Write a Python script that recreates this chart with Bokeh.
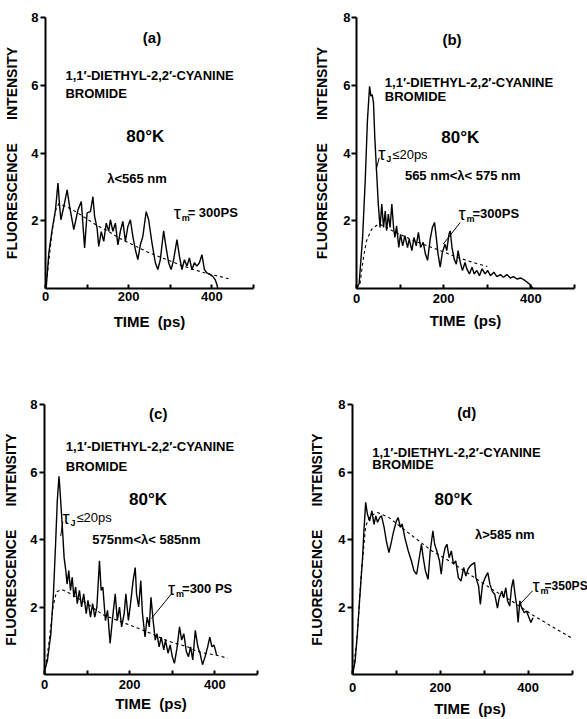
from bokeh.plotting import figure
from bokeh.layouts import column, row
from bokeh.models import Range1d, FixedTicker, Label
from bokeh.embed import file_html
from bokeh.resources import INLINE

FONT = "Liberation Sans"

# ---------------- data ----------------
x_ticks = [0, 100, 200, 300, 400, 500]
x_tick_labels = {0: "0", 100: "", 200: "200", 300: "", 400: "400", 500: ""}
y_ticks = [2, 4, 6, 8]

# (a)  lambda < 565 nm
a_time = [0, 2, 8, 16, 24, 30, 34, 37, 44, 52, 58, 68, 78, 86, 94, 100, 108, 114, 118, 124,
          128, 134, 140, 146, 152, 156, 162, 168, 174, 180, 186, 192, 198, 204, 210, 216, 222, 228, 234, 242,
          248, 256, 264, 270, 276, 284, 290, 296, 302, 308, 316, 322, 328, 334, 340, 346, 352, 358, 364, 370,
          376, 382, 388, 396, 402, 408, 412, 414]
a_signal = [0, 0.07, 1.05, 1.74, 2.32, 3.11, 2.42, 2.03, 2.42, 2.91, 2.42, 1.74, 2.32, 2.57, 1.2, 2.23, 2.27, 2.71, 2.13, 1.78,
            1.24, 1.68, 1.39, 1.93, 1.69, 2.03, 1.69, 1.93, 1.29, 1.69, 1.98, 1.39, 1.83, 2.03, 1.54, 1.15, 0.85, 1.29, 1.54, 2.27,
            2.03, 1.34, 0.76, 0.56, 0.85, 1.7, 1.2, 0.76, 0.56, 0.85, 1.44, 0.95, 0.56, 0.85, 0.66, 0.9, 0.56, 0.76, 0.66, 0.76,
            1.0, 0.56, 0.46, 0.41, 0.36, 0.26, 0.12, 0]
a_fit_time = [0, 8, 16, 24, 32, 50, 75, 100, 125, 150, 175, 200, 225, 250, 275, 300, 325, 350, 375, 400, 420, 440]
a_fit_value = [0, 0.8, 1.7, 2.3, 2.5, 2.42, 2.25, 2.05, 1.85, 1.7, 1.5, 1.35, 1.2, 1.05, 0.93, 0.81, 0.69, 0.58, 0.49, 0.41, 0.35, 0.29]

# (b)  565 nm < lambda < 575 nm
b_time = [0, 6, 14, 20, 25, 30, 33, 36, 39, 42, 46, 50, 54, 58, 62, 66, 69, 73, 77, 81,
          85, 88, 92, 97, 101, 106, 111, 117, 121, 127, 132, 137, 142, 147, 153, 158, 163, 169, 174, 179,
          183, 187, 192, 197, 203, 207, 212, 215, 219, 224, 229, 233, 238, 243, 249, 253, 259, 265, 270, 276,
          282, 288, 295, 301, 307, 315, 322, 330, 337, 345, 353, 360, 368, 377, 387, 397, 405]
b_signal = [0, 0.14, 1.51, 3.18, 4.94, 5.97, 5.68, 5.72, 5.48, 4.45, 3.47, 2.49, 1.8, 2.49, 1.8, 2.29, 1.71, 2.2, 1.8, 2.49,
            1.8, 1.51, 1.85, 1.21, 1.6, 1.26, 1.56, 1.21, 1.46, 1.12, 1.51, 1.26, 1.66, 1.21, 1.36, 1.02, 0.83, 1.46, 1.8, 1.95,
            1.51, 1.02, 0.63, 1.07, 1.31, 1.12, 1.6, 1.7, 1.21, 0.87, 0.72, 1.12, 0.77, 0.53, 0.77, 0.58, 0.43, 0.63, 0.43, 0.53,
            0.38, 0.58, 0.43, 0.53, 0.38, 0.48, 0.35, 0.41, 0.33, 0.41, 0.31, 0.35, 0.28, 0.31, 0.23, 0.13, 0]
b_fit_time = [0, 8, 16, 23, 35, 50, 62, 80, 100, 125, 150, 175, 200, 225, 250, 275, 300]
b_fit_value = [0, 0.14, 0.92, 1.41, 1.75, 1.9, 1.85, 1.72, 1.6, 1.45, 1.32, 1.2, 1.08, 0.95, 0.84, 0.74, 0.65]

# (c)  575 nm < lambda < 585 nm
c_time = [0, 1, 7, 15, 21, 26, 30, 34, 36, 42, 46, 50, 53, 57, 61, 65, 69, 73, 77, 82,
          87, 92, 98, 102, 108, 113, 118, 123, 129, 133, 137, 143, 148, 154, 160, 166, 171, 176, 181, 187,
          191, 197, 202, 208, 213, 216, 221, 226, 230, 236, 241, 246, 250, 255, 260, 264, 269, 274, 280, 284,
          290, 295, 300, 305, 311, 317, 322, 327, 333, 338, 343, 348, 354, 360, 365, 371, 377, 383, 388, 393,
          398, 404]
c_signal = [0, 0.14, 0.43, 1.22, 2.39, 3.86, 5.14, 5.87, 5.53, 4.35, 3.47, 3.08, 2.68, 3.08, 2.49, 2.88, 2.29, 2.59, 2.1, 2.49,
            2.0, 2.39, 1.8, 2.2, 1.7, 2.1, 1.7, 2.0, 3.37, 2.49, 2.59, 1.6, 1.9, 0.92, 1.7, 2.39, 1.6, 2.0, 1.41, 1.8,
            2.39, 1.6, 2.1, 2.78, 3.17, 2.39, 2.0, 2.78, 1.8, 1.11, 1.7, 1.41, 2.29, 1.6, 1.02, 1.21, 0.82, 1.11, 0.73, 1.02,
            0.63, 0.88, 0.53, 0.33, 0.78, 1.41, 1.02, 1.21, 0.68, 0.53, 0.82, 0.43, 1.31, 0.82, 0.63, 0.29, 0.53, 0.82, 1.11, 0.82,
            0.87, 0.58]
c_fit_time = [0, 10, 20, 28, 40, 60, 100, 137, 193, 240, 270, 300, 336, 356, 380, 402, 430]
c_fit_value = [0, 0.9, 2.0, 2.45, 2.52, 2.4, 2.1, 1.77, 1.5, 1.27, 1.1, 0.95, 0.82, 0.7, 0.62, 0.58, 0.48]

# (d)  lambda > 585 nm
d_time = [0, 1, 6, 11, 16, 23, 26, 30, 34, 39, 44, 49, 53, 57, 62, 66, 72, 77, 83, 89,
          94, 100, 104, 109, 113, 119, 127, 134, 140, 146, 151, 157, 161, 166, 172, 177, 183, 187, 192, 198,
          202, 206, 211, 215, 220, 225, 230, 235, 241, 247, 253, 258, 263, 268, 273, 278, 281, 287, 291, 296,
          302, 308, 313, 318, 324, 330, 334, 340, 344, 349, 353, 358, 362, 366, 370, 374, 377, 381, 385, 391,
          396, 402, 406, 411]
d_signal = [0, 0.05, 0.4, 1.2, 2.18, 3.47, 4.26, 5.1, 4.75, 4.55, 4.85, 4.45, 4.7, 4.51, 4.65, 4.7, 4.36, 3.96, 3.61, 3.96,
            4.26, 4.55, 4.65, 4.36, 4.46, 4.06, 3.66, 3.37, 3.07, 2.97, 3.37, 3.86, 3.46, 3.07, 2.82, 3.66, 4.26, 3.86, 3.66, 3.37,
            2.97, 3.46, 3.76, 3.86, 3.46, 3.66, 3.27, 3.37, 2.87, 2.77, 3.17, 2.92, 3.12, 3.22, 3.27, 3.32, 2.87, 2.62, 2.08, 2.67,
            2.87, 3.02, 2.67, 2.47, 2.37, 1.97, 2.27, 2.47, 2.27, 2.57, 2.18, 2.03, 2.57, 2.82, 2.37, 2.03, 1.54, 2.18, 1.98, 1.83,
            1.88, 1.68, 1.54, 1.68]
d_fit_time = [0, 10, 20, 30, 40, 57, 83, 106, 136, 181, 226, 272, 317, 362, 408, 453, 498]
d_fit_value = [0, 1.0, 3.0, 4.4, 4.7, 4.8, 4.65, 4.41, 4.11, 3.66, 3.32, 2.92, 2.53, 2.18, 1.78, 1.43, 1.09]

compound_1 = "1,1\u2032-DIETHYL-2,2\u2032-CYANINE"
compound_2 = "BROMIDE"
temperature = "80\u00b0K"
y_title = "FLUORESCENCE\u00a0\u00a0\u00a0\u00a0\u00a0\u00a0INTENSITY"
x_title = "TIME\u00a0\u00a0(ps)"

# ---------------- annotation layout (positions in data units) ----------------
panels = [
    dict(tag="(a)", t=a_time, s=a_signal, ft=a_fit_time, fv=a_fit_value, x_max=500,
         size=(298, 368), border=(45, 45, 17, 79), tick_standoff=3, title_standoff=9,
         ylab_standoff=2, ytitle_standoff=8,
         tag_xy=(256, 7.42), name_xy=(48, 6.29), brom_xy=(48, 5.76), temp_xy=(240, 4.48),
         wl="\u03bb<565 nm", wl_xy=(220, 3.26), wl_align="center",
         taum="= 300PS", taum_xy=(308, 2.24), taum_size="13px", taum_dx=14,
         taum_lead=None, tauj_xy=None, tauj_lead=None),
    dict(tag="(b)", t=b_time, s=b_signal, ft=b_fit_time, fv=b_fit_value, x_max=500,
         size=(289, 368), border=(58, 13, 16, 80), tick_standoff=5, title_standoff=6,
         ylab_standoff=1, ytitle_standoff=10,
         tag_xy=(219, 7.34), name_xy=(65, 6.08), brom_xy=(65, 5.68), temp_xy=(238, 4.45),
         wl="565 nm<\u03bb< 575 nm", wl_xy=(111, 3.35), wl_align="left",
         taum="=300PS", taum_xy=(234, 2.21), taum_size="13px", taum_dx=14,
         taum_lead=([238, 199], [1.95, 1.31]),
         tauj_xy=(50, 3.96), tauj_lead=([52, 45], [3.86, 3.5])),
    dict(tag="(c)", t=c_time, s=c_signal, ft=c_fit_time, fv=c_fit_value, x_max=500,
         size=(298, 351), border=(42, 41, 35, 44), tick_standoff=5, title_standoff=3,
         ylab_standoff=2, ytitle_standoff=8,
         tag_xy=(267, 7.74), name_xy=(50, 6.76), brom_xy=(50, 6.17), temp_xy=(243, 5.19),
         wl="575nm<\u03bb< 585nm", wl_xy=(112, 3.99), wl_align="left",
         taum="=300 PS", taum_xy=(290, 2.54), taum_size="13px", taum_dx=14,
         taum_lead=([298, 251], [2.39, 1.66]),
         tauj_xy=(42, 4.65), tauj_lead=([43, 38], [4.53, 4.1])),
    dict(tag="(d)", t=d_time, s=d_signal, ft=d_fit_time, fv=d_fit_value, x_max=535,
         size=(289, 351), border=(54, 0, 36, 45), tick_standoff=8, title_standoff=5,
         ylab_standoff=2, ytitle_standoff=10,
         tag_xy=(260, 7.77), name_xy=(45, 6.58), brom_xy=(45, 6.21), temp_xy=(230, 5.2),
         wl="\u03bb>585 nm", wl_xy=(279, 4.14), wl_align="left",
         taum="=350PS", taum_xy=(410, 2.63), taum_size="12px", taum_dx=12,
         taum_lead=([410, 381], [2.48, 2.08]),
         tauj_xy=None, tauj_lead=None),
]


def note(p, xy, text, size="13px", align="left", dx=0, dy=0, style="bold"):
    p.add_layout(Label(x=xy[0], y=xy[1], x_units="data", y_units="data", text=text,
                       text_font=FONT, text_font_style=style, text_font_size=size,
                       text_align=align, text_baseline="middle", text_color="black",
                       x_offset=dx, y_offset=dy))


def tau(p, xy, sub, rest, size="13px", dx=14, style="bold"):
    note(p, xy, "\u03c4", size="18px", style="normal")
    note(p, xy, sub, size="9px", dx=8, dy=-5)
    note(p, xy, rest, size=size, dx=dx, style=style)


def make_panel(cfg):
    w, h = cfg["size"]
    bl, br, bt, bb = cfg["border"]
    p = figure(width=w, height=h, x_range=Range1d(0, cfg["x_max"]), y_range=Range1d(0, 8),
               output_backend="svg", toolbar_location=None,
               min_border_left=bl, min_border_right=br, min_border_top=bt, min_border_bottom=bb)
    p.outline_line_color = None
    p.xgrid.visible = False
    p.ygrid.visible = False
    p.background_fill_color = "white"
    p.border_fill_color = "white"

    for ax in (p.xaxis[0], p.yaxis[0]):
        ax.axis_line_width = 2
        ax.axis_line_color = "black"
        ax.major_tick_line_width = 2
        ax.major_tick_line_color = "black"
        ax.minor_tick_line_color = None
        ax.major_label_text_font = FONT
        ax.major_label_text_font_style = "bold"
        ax.major_label_text_font_size = "13px"
        ax.major_label_text_color = "black"
        ax.axis_label_text_font = FONT
        ax.axis_label_text_font_style = "bold"
        ax.axis_label_text_color = "black"

    xa = p.xaxis[0]
    xa.ticker = FixedTicker(ticks=x_ticks)
    xa.bounds = (0, 500)
    xa.major_label_overrides = x_tick_labels
    xa.major_tick_in = 4
    xa.major_tick_out = 0
    xa.major_label_standoff = cfg["tick_standoff"]
    xa.axis_label = x_title
    xa.axis_label_text_font_size = "15px"
    xa.axis_label_standoff = cfg["title_standoff"]

    ya = p.yaxis[0]
    ya.ticker = FixedTicker(ticks=y_ticks)
    ya.major_tick_in = 0
    ya.major_tick_out = 5
    ya.major_label_standoff = cfg["ylab_standoff"]
    ya.axis_label = y_title
    ya.axis_label_text_font_size = "14px"
    ya.axis_label_standoff = cfg["ytitle_standoff"]

    p.line(cfg["ft"], cfg["fv"], line_color="black", line_width=1.1, line_dash="3 3")
    p.line(cfg["t"], cfg["s"], line_color="black", line_width=1.4)

    note(p, cfg["tag_xy"], cfg["tag"], size="15px", align="center")
    note(p, cfg["name_xy"], compound_1, size="13px")
    note(p, cfg["brom_xy"], compound_2, size="13px")
    note(p, cfg["temp_xy"], temperature, size="17px", align="center")
    note(p, cfg["wl_xy"], cfg["wl"], size="13px", align=cfg["wl_align"])
    tau(p, cfg["taum_xy"], "m", cfg["taum"], size=cfg["taum_size"], dx=cfg["taum_dx"])
    if cfg["taum_lead"]:
        p.line(cfg["taum_lead"][0], cfg["taum_lead"][1], line_color="black", line_width=1)
    if cfg["tauj_xy"]:
        tau(p, cfg["tauj_xy"], "J", "\u226420ps", style="normal")
        p.line(cfg["tauj_lead"][0], cfg["tauj_lead"][1], line_color="black", line_width=1)
    return p


figs = [make_panel(c) for c in panels]
layout = column(row(figs[0], figs[1]), row(figs[2], figs[3]))

open("out.html", "w").write(file_html(layout, INLINE))
